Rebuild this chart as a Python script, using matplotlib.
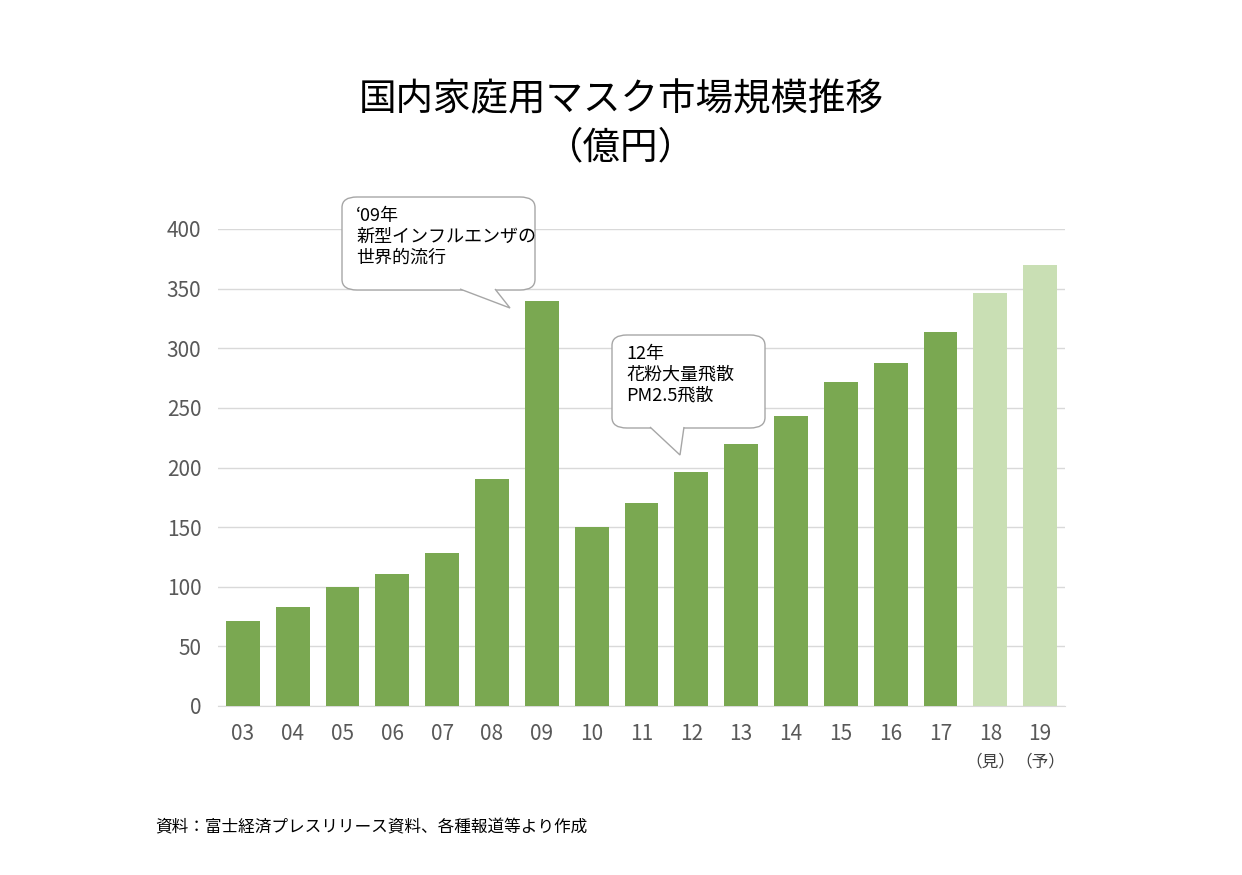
import matplotlib
matplotlib.use("Agg")
import matplotlib.pyplot as plt
from matplotlib.patches import FancyBboxPatch, Polygon

plt.rcParams['font.family'] = ['Noto Sans CJK JP', 'DejaVu Sans']

years = ["03","04","05","06","07","08","09","10","11","12","13","14","15","16","17","18","19"]
values = [71, 83, 100, 111, 128, 190, 340, 150, 170, 196, 220, 243, 272, 288, 314, 346, 370]
sub_labels = {"18": "（見）", "19": "（予）"}
dark = "#7aa851"
light = "#c9dfb4"
colors = [light if y in sub_labels else dark for y in years]

W, H = 1242, 875
fig = plt.figure(figsize=(W/100, H/100), dpi=100)
ax = fig.add_axes([218/W, 1-706/H, (1065-218)/W, (706-229)/H])
x = range(len(years))
ax.bar(x, values, width=0.68, color=colors, zorder=3)
ax.set_xlim(-0.5, len(years)-0.5)
ax.set_ylim(0, 400)
ax.set_yticks(range(0, 401, 50))
ax.grid(axis='y', color='#d9d9d9', lw=1, zorder=0)
for s in ['top', 'right', 'left']:
    ax.spines[s].set_visible(False)
ax.spines['bottom'].set_color('#d9d9d9')
ax.tick_params(length=0, colors='#595959', labelsize=15, pad=12)
ax.set_xticks(list(x))
ax.set_xticklabels(years)
for i, y in enumerate(years):
    if y in sub_labels:
        ax.text(i, -40, sub_labels[y], ha='center', va='top', fontsize=12, color='#404040')

fig.text(0.5, 1-100/H, "国内家庭用マスク市場規模推移", ha='center', va='center', fontsize=27)
fig.text(0.5, 1-148/H, "（億円）", ha='center', va='center', fontsize=27)
fig.text(155/W, 1-828/H, "資料：富士経済プレスリリース資料、各種報道等より作成", ha='left', va='center', fontsize=12)

def callout(x0, y0, x1, y1, tip, base, text):
    tr = fig.transFigure
    p = FancyBboxPatch((x0/W, 1-y1/H), (x1-x0)/W, (y1-y0)/H,
                       boxstyle="round,pad=0,rounding_size=0.012",
                       transform=tr, fc='white', ec='#a6a6a6', lw=1, zorder=5)
    fig.patches.append(p)
    poly = Polygon([(base[0]/W, 1-(y1-1)/H), (tip[0]/W, 1-tip[1]/H), (base[1]/W, 1-(y1-1)/H)],
                   closed=False, transform=tr, fc='white', ec='#a6a6a6', lw=1, zorder=6)
    fig.patches.append(poly)
    fig.text((x0+14)/W, 1-(y0+10)/H, text, ha='left', va='top', fontsize=13, linespacing=1.2, zorder=7)

callout(342, 197, 535, 290, (510, 308), (460, 495), "‘09年\n新型インフルエンザの\n世界的流行")
callout(612, 335, 765, 428, (680, 455), (650, 684), "12年\n花粉大量飛散\nPM2.5飛散")

fig.savefig("out.png", dpi=100)
